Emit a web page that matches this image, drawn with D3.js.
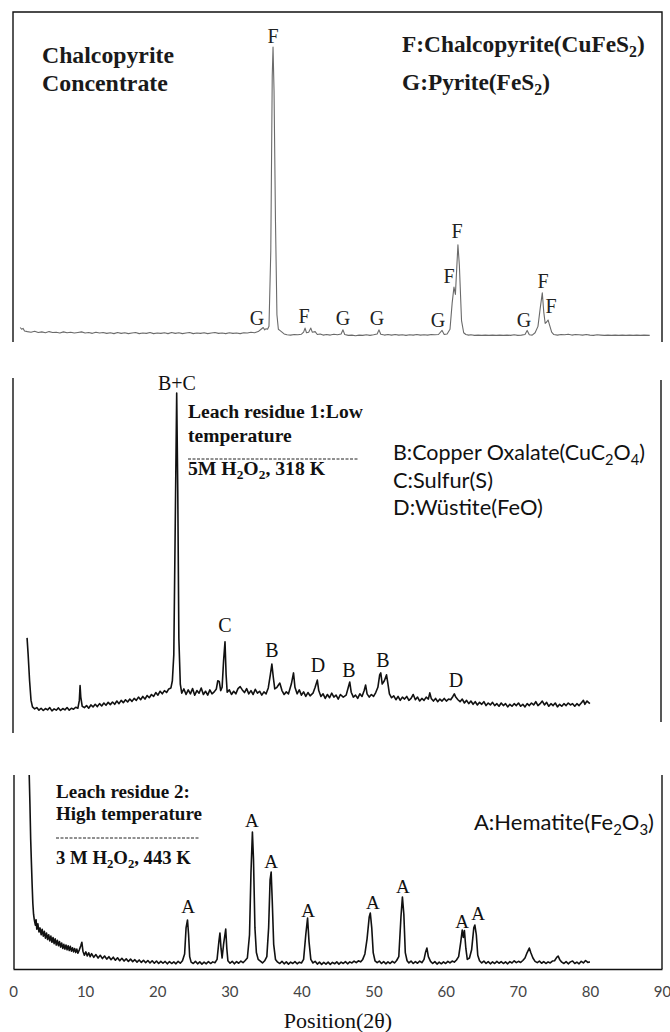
<!DOCTYPE html>
<html><head><meta charset="utf-8">
<script src="https://cdn.jsdelivr.net/npm/d3@7"></script>
<style>html,body{margin:0;padding:0;background:#fff;} svg{display:block;}</style>
</head><body>
<svg id="c" width="670" height="1032"></svg>
<script>
// ---------------- DATA ----------------
const xTicks = [0,10,20,30,40,50,60,70,80,90];

// Panel 1: chalcopyrite concentrate  [2θ, intensity]
const topData = [[1.0,36],[1.2,30],[1.4,33],[1.6,24],[2.0,22],[2.5,20],[3.0,23],[3.5,19],[4.0,21],[4.5,18],[5.0,22],[5.5,19],[6.0,20],[6.5,17],[7.0,21],[7.5,18],[8.0,20],[8.5,17],[9.0,19],[9.5,21],[10,17],[10.5,19],[11,16],[11.5,20],[12,17],[12.5,19],[13,16],[13.5,18],[14,15],[14.5,19],[15,16],[15.5,18],[16,15],[16.5,17],[17,19],[17.5,15],[18,17],[18.5,16],[19,19],[19.5,15],[20,17],[20.5,16],[21,18],[21.5,15],[22,19],[22.5,16],[23,18],[23.5,15],[24,17],[24.5,19],[25,15],[25.5,17],[26,16],[26.5,18],[27,15],[27.5,17],[28,19],[28.5,16],[29,17],[29.5,15],[30,18],[30.5,16],[31,17],[31.5,15],[32,18],[32.5,17],[33,20],[33.5,18],[34.0,22],[34.4,30],[34.7,36],[34.9,28],[35.1,32],[35.3,30],[35.5,40],[35.75,300],[35.95,900],[36.06,1000],[36.2,850],[36.4,400],[36.6,80],[36.8,30],[37.0,26],[37.3,20],[37.6,14],[38,11],[38.5,10],[39,12],[39.5,11],[40.0,13],[40.3,20],[40.5,34],[40.7,18],[41.0,20],[41.3,34],[41.5,20],[41.9,22],[42.2,12],[42.6,14],[43,10],[43.5,12],[44,10],[44.5,13],[45,11],[45.5,14],[45.76,28],[46.0,12],[46.5,9],[47,10],[47.5,8],[48,10],[48.5,9],[49,11],[49.5,9],[50,11],[50.5,14],[50.75,28],[51.0,13],[51.5,10],[52,12],[52.5,10],[53,12],[53.5,10],[54,11],[54.5,9],[55,11],[55.5,10],[56,12],[56.5,10],[57,11],[57.5,10],[58,12],[58.5,11],[59,12],[59.5,26],[59.8,12],[60.2,14],[60.6,30],[60.9,120],[61.15,175],[61.35,150],[61.7,320],[61.9,250],[62.2,60],[62.5,18],[62.8,12],[63.2,10],[63.5,11],[64,9],[64.5,10],[65,9],[65.5,10],[66,9],[66.5,10],[67,9],[67.5,10],[68,9],[68.5,10],[69,9],[69.5,11],[70,9],[70.5,10],[71.0,12],[71.3,26],[71.6,11],[72.0,10],[72.4,18],[72.8,40],[73.1,100],[73.4,155],[73.6,90],[73.8,50],[74.0,55],[74.2,62],[74.4,45],[74.7,20],[75,12],[75.5,10],[76,12],[76.5,11],[77,13],[77.5,10],[78,12],[78.5,11],[79,10],[79.5,12],[80,10],[80.5,9],[81,11],[81.5,10],[82,9],[82.5,10],[83,9],[83.5,10],[84,9],[84.5,10],[85,9],[85.5,10],[86,9],[86.5,10],[87,9],[87.5,10],[88.3,9]];

// Panel 2: leach residue 1
const midData = [[1.95,251],[2.1,200],[2.3,120],[2.5,60],[2.7,40],[3.0,34],[3.3,38],[3.6,30],[3.9,36],[4.2,29],[4.5,35],[4.8,31],[5.1,38],[5.4,28],[5.7,34],[6.0,30],[6.3,37],[6.6,29],[6.9,35],[7.2,31],[7.5,38],[7.8,30],[8.1,36],[8.4,33],[8.7,39],[9.0,36],[9.2,60],[9.3,105],[9.4,70],[9.6,42],[9.9,38],[10.2,44],[10.5,36],[10.8,46],[11.1,40],[11.4,48],[11.7,41],[12.0,50],[12.3,43],[12.6,52],[12.9,45],[13.2,54],[13.5,47],[13.8,55],[14.1,48],[14.4,58],[14.7,50],[15.0,60],[15.3,53],[15.6,62],[15.9,55],[16.2,64],[16.5,57],[16.8,66],[17.1,60],[17.4,70],[17.7,62],[18.0,72],[18.3,64],[18.6,75],[18.9,68],[19.2,78],[19.5,72],[19.8,84],[20.1,76],[20.4,88],[20.7,80],[21.0,90],[21.3,84],[21.6,95],[21.9,98],[22.1,120],[22.3,200],[22.5,600],[22.7,1000],[22.85,700],[23.0,250],[23.2,110],[23.4,82],[23.7,95],[24.0,78],[24.3,92],[24.6,80],[24.9,96],[25.2,76],[25.5,90],[25.8,82],[26.1,98],[26.4,78],[26.7,88],[27.0,76],[27.3,92],[27.6,80],[27.9,86],[28.2,95],[28.4,120],[28.6,118],[28.8,90],[29.0,100],[29.2,180],[29.4,239],[29.55,140],[29.7,85],[30.0,92],[30.3,78],[30.6,88],[30.9,80],[31.2,96],[31.5,102],[31.8,92],[32.1,84],[32.4,96],[32.7,80],[33.0,90],[33.3,78],[33.6,94],[33.9,82],[34.2,88],[34.5,76],[34.8,86],[35.1,80],[35.4,98],[35.7,140],[35.9,171],[36.1,130],[36.3,95],[36.6,100],[37.0,113],[37.3,90],[37.6,78],[37.9,86],[38.2,80],[38.6,110],[38.9,144],[39.1,100],[39.4,80],[39.7,92],[40.0,76],[40.3,86],[40.6,72],[40.9,84],[41.2,74],[41.6,82],[41.9,100],[42.2,122],[42.4,90],[42.7,72],[43.0,80],[43.3,66],[43.6,78],[43.9,68],[44.2,82],[44.5,70],[44.8,76],[45.1,64],[45.4,78],[45.8,70],[46.2,76],[46.5,100],[46.7,116],[46.9,85],[47.2,70],[47.5,76],[47.8,66],[48.1,80],[48.4,72],[48.7,90],[48.9,107],[49.1,80],[49.4,70],[49.7,78],[50.0,72],[50.3,84],[50.6,100],[50.85,138],[51.0,144],[51.2,110],[51.5,120],[51.8,138],[52.0,110],[52.2,80],[52.5,68],[52.8,74],[53.1,62],[53.4,72],[53.7,60],[54.0,70],[54.3,64],[54.6,72],[54.9,60],[55.2,66],[55.5,78],[55.8,62],[56.1,70],[56.4,58],[56.7,66],[57.0,60],[57.3,70],[57.6,64],[57.8,83],[58.0,66],[58.3,58],[58.6,66],[58.9,56],[59.2,64],[59.5,58],[59.8,66],[60.1,58],[60.4,64],[60.7,62],[61.0,72],[61.2,80],[61.4,70],[61.7,62],[62.0,56],[62.3,64],[62.6,52],[62.9,60],[63.2,50],[63.5,58],[63.8,48],[64.1,56],[64.4,46],[64.7,54],[65.0,48],[65.3,56],[65.6,44],[65.9,52],[66.2,46],[66.5,54],[66.8,44],[67.1,50],[67.4,42],[67.7,52],[68.0,44],[68.3,50],[68.6,40],[68.9,48],[69.2,42],[69.5,50],[69.8,44],[70.1,52],[70.4,42],[70.7,48],[71.0,40],[71.3,50],[71.6,44],[71.9,52],[72.2,46],[72.5,56],[72.8,44],[73.1,50],[73.4,58],[73.7,46],[74.0,54],[74.3,42],[74.6,50],[74.9,44],[75.2,52],[75.5,40],[75.8,48],[76.1,42],[76.4,50],[76.7,44],[77.0,52],[77.3,46],[77.6,50],[77.9,42],[78.2,50],[78.5,44],[78.8,52],[79.1,60],[79.3,48],[79.6,58],[80.0,50]];

// Panel 3: leach residue 2
const botData = [[2.25,1416],[2.35,1200],[2.45,950],[2.55,780],[2.65,620],[2.75,480],[2.85,400],[2.95,360],[3.1,320],[3.2,360],[3.3,290],[3.45,330],[3.6,270],[3.75,300],[3.9,250],[4.05,290],[4.2,240],[4.35,275],[4.5,225],[4.65,262],[4.8,215],[4.95,250],[5.1,205],[5.25,240],[5.4,195],[5.55,230],[5.7,185],[5.85,220],[6.0,175],[6.15,210],[6.3,170],[6.45,200],[6.6,160],[6.75,190],[6.9,150],[7.05,180],[7.2,145],[7.35,175],[7.5,140],[7.65,170],[7.8,135],[7.95,165],[8.1,130],[8.25,155],[8.4,125],[8.55,150],[8.7,120],[8.85,145],[9.0,115],[9.2,140],[9.4,170],[9.55,195],[9.7,130],[9.9,100],[10.1,125],[10.3,95],[10.5,118],[10.7,90],[10.9,112],[11.2,85],[11.5,105],[11.8,80],[12.1,100],[12.4,76],[12.7,95],[13.0,72],[13.3,90],[13.6,68],[13.9,86],[14.2,64],[14.5,82],[14.8,60],[15.1,78],[15.4,58],[15.7,74],[16.0,55],[16.3,72],[16.6,54],[16.9,68],[17.2,50],[17.5,66],[17.8,48],[18.1,64],[18.4,46],[18.7,62],[19.0,44],[19.3,60],[19.6,42],[19.9,58],[20.2,40],[20.5,56],[20.8,42],[21.1,55],[21.4,38],[21.7,54],[22.0,40],[22.3,52],[22.6,38],[22.9,56],[23.2,42],[23.5,60],[23.8,110],[24.0,300],[24.2,358],[24.35,250],[24.5,90],[24.7,50],[25.0,40],[25.3,56],[25.6,38],[25.9,52],[26.2,36],[26.5,50],[26.8,38],[27.1,54],[27.4,40],[27.7,52],[28.0,46],[28.3,70],[28.55,200],[28.7,263],[28.85,150],[29.0,80],[29.2,180],[29.5,292],[29.65,150],[29.8,60],[30.1,42],[30.4,56],[30.7,38],[31.0,54],[31.3,42],[31.6,58],[31.9,46],[32.2,62],[32.5,80],[32.8,250],[33.0,700],[33.2,1000],[33.35,800],[33.55,300],[33.75,120],[34.0,70],[34.3,58],[34.6,44],[34.9,60],[35.2,90],[35.45,300],[35.65,650],[35.8,708],[35.95,500],[36.15,180],[36.4,70],[36.7,50],[37.0,40],[37.3,56],[37.6,38],[37.9,52],[38.2,36],[38.5,50],[38.8,40],[39.1,54],[39.4,38],[39.7,50],[40.0,44],[40.3,70],[40.6,250],[40.85,372],[41.05,200],[41.3,70],[41.6,44],[41.9,56],[42.2,36],[42.5,50],[42.8,34],[43.1,48],[43.4,36],[43.7,50],[44.0,34],[44.3,48],[44.6,38],[44.9,52],[45.2,36],[45.5,50],[45.8,40],[46.1,54],[46.4,38],[46.7,52],[47.0,44],[47.3,58],[47.6,46],[47.9,60],[48.2,52],[48.5,70],[48.8,110],[49.1,220],[49.4,380],[49.55,409],[49.75,300],[49.95,120],[50.2,60],[50.5,46],[50.8,58],[51.1,40],[51.4,54],[51.7,38],[52.0,52],[52.3,40],[52.6,56],[52.9,44],[53.2,62],[53.5,90],[53.8,380],[54.0,526],[54.2,400],[54.4,120],[54.65,60],[54.9,44],[55.2,58],[55.5,40],[55.8,54],[56.1,42],[56.4,58],[56.7,46],[57.0,70],[57.2,120],[57.4,153],[57.6,90],[57.9,56],[58.2,40],[58.5,54],[58.8,36],[59.1,50],[59.4,38],[59.7,52],[60.0,40],[60.3,56],[60.6,44],[60.9,58],[61.2,50],[61.5,66],[61.8,90],[62.1,200],[62.3,285],[62.45,230],[62.6,280],[62.8,150],[63.0,70],[63.3,80],[63.6,140],[63.9,300],[64.05,321],[64.25,250],[64.45,100],[64.7,60],[65.0,44],[65.3,58],[65.6,40],[65.9,54],[66.2,38],[66.5,52],[66.8,40],[67.1,56],[67.4,42],[67.7,54],[68.0,40],[68.3,52],[68.6,38],[68.9,54],[69.2,44],[69.5,60],[69.8,46],[70.1,56],[70.4,48],[70.7,62],[71.0,80],[71.3,120],[71.6,153],[71.8,120],[72.1,80],[72.4,56],[72.7,46],[73.0,58],[73.3,42],[73.6,54],[73.9,40],[74.2,52],[74.5,44],[74.8,58],[75.1,60],[75.4,85],[75.6,95],[75.8,70],[76.1,50],[76.4,40],[76.7,54],[77.0,38],[77.3,52],[77.6,58],[77.9,40],[78.2,50],[78.5,38],[78.8,56],[79.1,44],[79.4,62],[79.7,48],[80.0,52]];

// Peak labels [text, 2θ, intensity]
const topPeakLabels = [["F",36.06,1014],["G",33.84,45],["F",40.36,52],["G",45.76,45],["G",50.48,45],["G",58.94,38],["F",60.46,189],["F",61.57,344],["G",70.86,38],["F",73.5,172],["F",74.6,86]];
const midPeakLabels = [["B+C",22.74,1009],["C",29.4,269],["B",35.92,193],["D",42.3,147],["B",46.6,131],["B",51.3,162],["D",61.43,101]];
const botPeakLabels = [["A",24.27,409],["A",33.14,1037],["A",35.78,737],["A",40.91,380],["A",49.92,438],["A",54.08,555],["A",62.27,299],["A",64.49,358]];

// ---------------- DRAW ----------------
const svg = d3.select("#c");
const SERIF = "'Liberation Serif','Times New Roman',serif";
const SANS = "Lato,'Noto Sans',sans-serif";

const x = d3.scaleLinear().domain([0,90]).range([13,662]);
const yTop = d3.scaleLinear().domain([0,1000]).range([338,47]);
const yMid = d3.scaleLinear().domain([0,1000]).range([720,393]);
const yBot = d3.scaleLinear().domain([0,1000]).range([969,832]);

function frame(d){ svg.append("path").attr("d",d).attr("fill","none").attr("stroke","#111").attr("stroke-width",1.4); }
frame("M13,342V12H662V342");
frame("M13,378V733");
frame("M661,380V722");
frame("M14,775V969");
frame("M662,775V969");

function series(data, y, color, w){
  svg.append("path").datum(data)
    .attr("d", d3.line().x(d=>x(d[0])).y(d=>y(d[1])))
    .attr("fill","none").attr("stroke",color).attr("stroke-width",w).attr("stroke-linejoin","round");
}
series(topData, yTop, "#6a6a6a", 1.1);
series(midData, yMid, "#111", 1.6);
series(botData, yBot, "#111", 1.6);

function peakLabels(labels, y, size, color){
  svg.append("g").selectAll("text").data(labels).join("text")
    .attr("x", d=>x(d[1])).attr("y", d=>y(d[2]))
    .attr("text-anchor","middle").attr("font-family",SERIF).attr("font-size",size)
    .attr("fill",color).text(d=>d[0]);
}
peakLabels(topPeakLabels, yTop, 20, "#222");
peakLabels(midPeakLabels, yMid, 20, "#111");
peakLabels(botPeakLabels, yBot, 19, "#111");

// text with subscripts; font size fitted to a target width
function build(px, py, parts, o, size){
  const t = svg.append("text").attr("x",px).attr("y",py)
    .attr("font-family",o.family).attr("font-size",size)
    .attr("font-weight",o.weight||"normal").attr("fill",o.fill||"#111");
  const sh = size*0.22;
  let prevSub=false;
  parts.forEach(p=>{
    const isSub = p[1]===1;
    const ts = t.append("tspan").text(p[0]);
    if(isSub){ ts.attr("font-size",size*0.68); if(!prevSub) ts.attr("dy",sh); }
    else if(prevSub){ ts.attr("dy",-sh); }
    prevSub=isSub;
  });
  return t;
}
function rich(px, py, parts, o){
  let t = build(px, py, parts, o, o.size);
  if(o.len){
    const w = t.node().getComputedTextLength();
    if(w>0){
      const s = o.size*o.len/w;
      t.remove();
      t = build(px, py, parts, o, s);
    }
  }
  return t;
}

// Panel 1 texts
rich(42,63,[["Chalcopyrite",0]],{family:SERIF,size:23,weight:"bold",fill:"#1a1a1a",len:132});
rich(42,91,[["Concentrate",0]],{family:SERIF,size:23,weight:"bold",fill:"#1a1a1a",len:126});
rich(402,52,[["F:Chalcopyrite(CuFeS",0],["2",1],[")",0]],{family:SERIF,size:22,weight:"bold",fill:"#1a1a1a",len:243});
rich(402,90,[["G:Pyrite(FeS",0],["2",1],[")",0]],{family:SERIF,size:22,weight:"bold",fill:"#1a1a1a",len:148});

// Panel 2 texts
rich(188,418,[["Leach residue 1:Low",0]],{family:SERIF,size:19.5,weight:"bold",len:175});
rich(188,442,[["temperature",0]],{family:SERIF,size:19.5,weight:"bold"});
svg.append("line").attr("x1",188).attr("x2",358).attr("y1",459).attr("y2",459)
  .attr("stroke","#222").attr("stroke-width",1).attr("stroke-dasharray","3,1.5");
rich(188,475,[["5M H",0],["2",1],["O",0],["2",1],[", 318 K",0]],{family:SERIF,size:19.5,weight:"bold",len:137});
rich(393,460,[["B:Copper Oxalate(CuC",0],["2",1],["O",0],["4",1],[")",0]],{family:SANS,size:21,len:252});
rich(393,488,[["C:Sulfur(S)",0]],{family:SANS,size:21,len:100});
rich(393,515,[["D:Wüstite(FeO)",0]],{family:SANS,size:21,len:150});

// Panel 3 texts
rich(56,798,[["Leach residue 2:",0]],{family:SERIF,size:19,weight:"bold",len:134});
rich(56,820,[["High temperature",0]],{family:SERIF,size:19,weight:"bold",len:146});
svg.append("line").attr("x1",56).attr("x2",200).attr("y1",838).attr("y2",838)
  .attr("stroke","#222").attr("stroke-width",1).attr("stroke-dasharray","3,1.5");
rich(56,864,[["3 M H",0],["2",1],["O",0],["2",1],[", 443 K",0]],{family:SERIF,size:19,weight:"bold",len:135});
rich(474,830,[["A:Hematite(Fe",0],["2",1],["O",0],["3",1],[")",0]],{family:SANS,size:23,len:180});

// X axis
const ax = svg.append("g").attr("transform","translate(0,969)")
  .call(d3.axisBottom(x).tickValues(xTicks).tickSize(0).tickSizeOuter(0).tickPadding(17).tickFormat(d3.format("d")));
ax.select(".domain").attr("stroke","#111").attr("stroke-width",1.4);
ax.selectAll("text").attr("font-family",SANS).attr("font-size",15).attr("fill","#444");

svg.append("text").attr("x",338).attr("y",1028).attr("text-anchor","middle")
  .attr("font-family",SERIF).attr("font-size",22).attr("fill","#111").text("Position(2θ)");
</script>
</body></html>
